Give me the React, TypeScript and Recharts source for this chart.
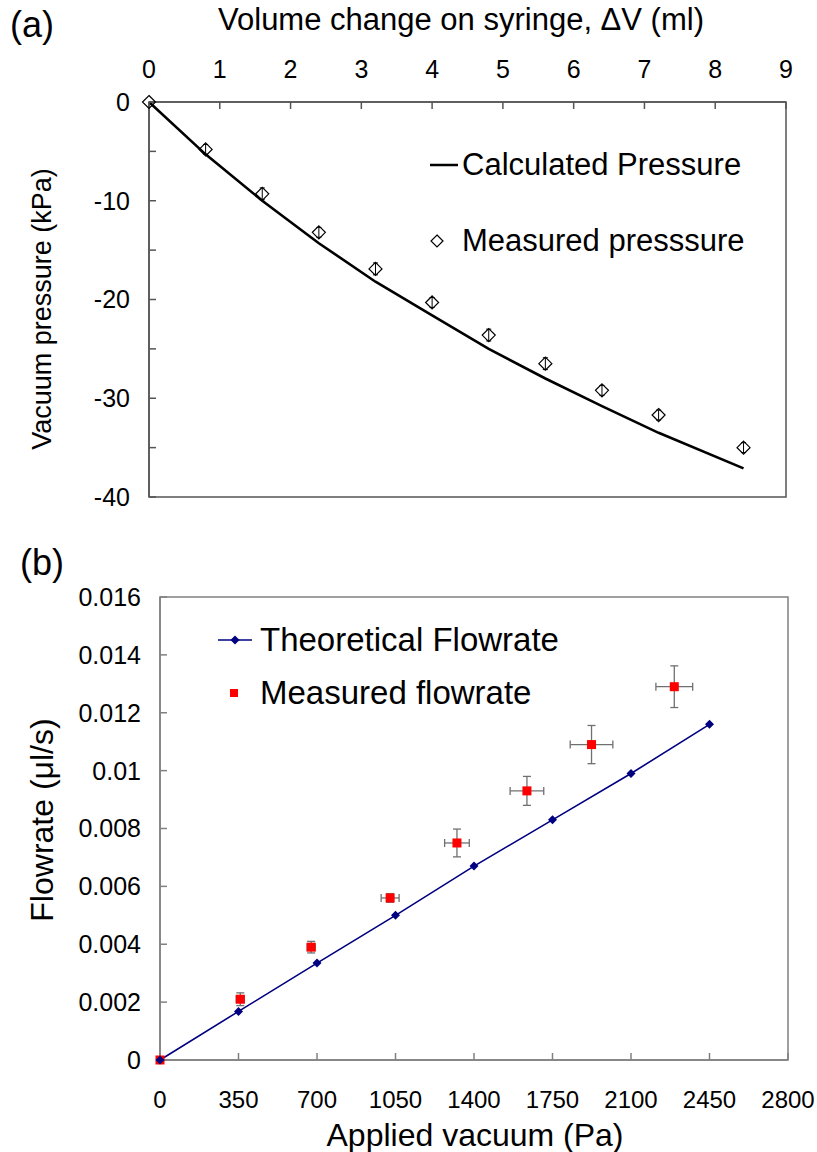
import React from "react";
import {
  ComposedChart,
  Line,
  Scatter,
  XAxis,
  YAxis,
  ErrorBar,
  ReferenceArea,
  Legend,
  Label,
} from "recharts";

const FONT = "'Liberation Sans', Arial, sans-serif";

// (a) syringe volume vs vacuum pressure
const volumeChange = [0, 0.8, 1.6, 2.4, 3.2, 4.0, 4.8, 5.6, 6.4, 7.2, 8.4];
const measuredPressure = [0, -4.8, -9.3, -13.2, -16.9, -20.3, -23.6, -26.5, -29.2, -31.7, -35.0];
const pressureError = [0, 0.5, 0.6, 0.5, 0.6, 0.5, 0.6, 0.6, 0.5, 0.5, 0.5];
const calculatedPressure = [0, -5.3, -10.0, -14.3, -18.2, -21.6, -25.0, -28.0, -30.8, -33.5, -37.1];
const volumeTicks = [0, 1, 2, 3, 4, 5, 6, 7, 8, 9];
const pressureTicks = [0, -5, -10, -15, -20, -25, -30, -35, -40];

// (b) applied vacuum vs flowrate
const appliedVacuum = [0, 350, 700, 1050, 1400, 1750, 2100, 2450];
const theoreticalFlow = [0, 0.00168, 0.00335, 0.005, 0.0067, 0.0083, 0.0099, 0.0116];
const measuredVacuum = [0, 358, 674, 1026, 1324, 1636, 1924, 2293];
const measuredFlow = [0, 0.0021, 0.0039, 0.0056, 0.0075, 0.0093, 0.0109, 0.0129];
const vacuumError = [0, 18, 18, 40, 55, 75, 95, 82];
const flowError = [0, 0.00022, 0.0002, 0.00015, 0.00048, 0.0005, 0.00066, 0.00072];
const vacuumTicks = [0, 350, 700, 1050, 1400, 1750, 2100, 2450, 2800];
const flowTicks = [0, 0.002, 0.004, 0.006, 0.008, 0.01, 0.012, 0.014, 0.016];

const pressureData = volumeChange.map((dv, i) => ({
  dv,
  measured: measuredPressure[i],
  err: pressureError[i],
  calc: calculatedPressure[i],
}));

const theoryData = appliedVacuum.map((pa, i) => ({ pa, q: theoreticalFlow[i] }));
const measuredData = measuredVacuum.map((pa, i) => ({
  pa,
  q: measuredFlow[i],
  ex: vacuumError[i],
  ey: flowError[i],
}));

const tickStyle = { fontFamily: FONT, fontSize: 25, fill: "#000" };
const smallTickStyle = { fontFamily: FONT, fontSize: 24, fill: "#000" };

const HollowDiamond = (props: any) => {
  const { cx, cy } = props;
  const r = 6.5;
  return (
    <path
      d={`M${cx},${cy - r}L${cx + r},${cy}L${cx},${cy + r}L${cx - r},${cy}Z`}
      fill="none"
      stroke="#000"
      strokeWidth={1.2}
    />
  );
};

const NavyDiamond = (props: any) => {
  const { cx, cy } = props;
  return (
    <path
      d={`M${cx},${cy - 4.5}L${cx + 4.5},${cy}L${cx},${cy + 4.5}L${cx - 4.5},${cy}Z`}
      fill="#000080"
    />
  );
};

const RedSquare = (props: any) => {
  const { cx, cy } = props;
  return <rect x={cx - 4.5} y={cy - 4.5} width={9} height={9} fill="#ff0000" />;
};

const PressureLegend = () => (
  <div style={{ fontFamily: FONT, fontSize: 31, color: "#000", lineHeight: "36px" }}>
    <div style={{ display: "flex", alignItems: "center", height: 36 }}>
      <svg width={32} height={36}>
        <line x1={0} x2={28} y1={18} y2={18} stroke="#000" strokeWidth={2.5} />
      </svg>
      <span>Calculated Pressure</span>
    </div>
    <div style={{ display: "flex", alignItems: "center", height: 36, marginTop: 40 }}>
      <svg width={32} height={36}>
        <path d="M7,12L13,18L7,24L1,18Z" fill="none" stroke="#000" strokeWidth={1.2} />
      </svg>
      <span>Measured presssure</span>
    </div>
  </div>
);

const FlowLegend = () => (
  <div style={{ fontFamily: FONT, fontSize: 33, color: "#000", lineHeight: "38px" }}>
    <div style={{ display: "flex", alignItems: "center", height: 38 }}>
      <svg width={55} height={38}>
        <line x1={13} x2={47} y1={19} y2={19} stroke="#000080" strokeWidth={1.5} />
        <path d="M30,14.5L34.5,19L30,23.5L25.5,19Z" fill="#000080" />
      </svg>
      <span>Theoretical Flowrate</span>
    </div>
    <div style={{ display: "flex", alignItems: "center", height: 38, marginTop: 15 }}>
      <svg width={55} height={38}>
        <rect x={25} y={15} width={8} height={8} fill="#ff0000" />
      </svg>
      <span>Measured flowrate</span>
    </div>
  </div>
);

const PressureChart = () => (
  <ComposedChart
    width={817}
    height={520}
    data={pressureData}
    margin={{ top: 0, right: 31, bottom: 23, left: 0 }}
  >
    <XAxis
      xAxisId="v"
      orientation="top"
      type="number"
      dataKey="dv"
      domain={[0, 9]}
      ticks={volumeTicks}
      height={102}
      tickSize={-7}
      tickMargin={31}
      tick={tickStyle}
      stroke="#555"
      strokeWidth={1.5}
    >
      <Label
        content={() => (
          <text
            x={461}
            y={30}
            textAnchor="middle"
            fontFamily={FONT}
            fontSize={31}
            fill="#000"
          >
            Volume change on syringe, ΔV (ml)
          </text>
        )}
      />
    </XAxis>
    <YAxis
      yAxisId="p"
      type="number"
      domain={[-40, 0]}
      ticks={pressureTicks}
      width={149}
      tickSize={-7}
      tickMargin={26}
      tick={tickStyle}
      tickFormatter={(v: number) => (v % 10 === 0 ? String(v) : "")}
      stroke="#555"
      strokeWidth={1.5}
    >
      <Label
        content={() => (
          <text
            x={42}
            y={309}
            transform="rotate(-90 42 309)"
            textAnchor="middle"
            dominantBaseline="central"
            fontFamily={FONT}
            fontSize={27}
            fill="#000"
          >
            Vacuum pressure (kPa)
          </text>
        )}
      />
    </YAxis>
    <ReferenceArea
      xAxisId="v"
      yAxisId="p"
      x1={0}
      x2={9}
      y1={-40}
      y2={0}
      fill="none"
      stroke="#555"
      strokeWidth={1.5}
      ifOverflow="visible"
    />
    <Line
      xAxisId="v"
      yAxisId="p"
      type="linear"
      dataKey="calc"
      stroke="#000"
      strokeWidth={2.6}
      dot={false}
      isAnimationActive={false}
    />
    <Scatter
      xAxisId="v"
      yAxisId="p"
      dataKey="measured"
      shape={HollowDiamond}
      isAnimationActive={false}
    >
      <ErrorBar dataKey="err" direction="y" width={2.5} stroke="#000" strokeWidth={1} />
    </Scatter>
    <Legend
      layout="vertical"
      align="center"
      verticalAlign="middle"
      content={PressureLegend}
      wrapperStyle={{ top: 147, left: 430, width: 387, height: 120 }}
    />
  </ComposedChart>
);

const FlowChart = () => (
  <ComposedChart
    width={817}
    height={612}
    margin={{ top: 57, right: 29, bottom: 0, left: 0 }}
  >
    <XAxis
      xAxisId="a"
      type="number"
      dataKey="pa"
      domain={[0, 2800]}
      ticks={vacuumTicks}
      height={92}
      tickSize={-7}
      tickMargin={38}
      tick={smallTickStyle}
      stroke="#808080"
      strokeWidth={1.5}
      allowDuplicatedCategory={false}
    >
      <Label
        content={() => (
          <text
            x={475}
            y={606}
            textAnchor="middle"
            fontFamily={FONT}
            fontSize={32}
            fill="#000"
          >
            Applied vacuum (Pa)
          </text>
        )}
      />
    </XAxis>
    <YAxis
      yAxisId="f"
      type="number"
      domain={[0, 0.016]}
      ticks={flowTicks}
      width={160}
      tickSize={-7}
      tickMargin={26}
      tick={tickStyle}
      stroke="#808080"
      strokeWidth={1.5}
    >
      <Label
        content={() => (
          <text
            x={42}
            y={280}
            transform="rotate(-90 42 280)"
            textAnchor="middle"
            dominantBaseline="central"
            fontFamily={FONT}
            fontSize={32}
            fill="#000"
          >
            Flowrate (μl/s)
          </text>
        )}
      />
    </YAxis>
    <ReferenceArea
      xAxisId="a"
      yAxisId="f"
      x1={0}
      x2={2800}
      y1={0}
      y2={0.016}
      fill="none"
      stroke="#808080"
      strokeWidth={1.5}
      ifOverflow="visible"
    />
    <Line
      xAxisId="a"
      yAxisId="f"
      data={theoryData}
      type="linear"
      dataKey="q"
      stroke="#000080"
      strokeWidth={1.6}
      dot={NavyDiamond}
      isAnimationActive={false}
    />
    <Scatter
      xAxisId="a"
      yAxisId="f"
      data={measuredData}
      dataKey="q"
      shape={RedSquare}
      isAnimationActive={false}
    >
      <ErrorBar dataKey="ey" direction="y" width={4} stroke="#707070" strokeWidth={1.3} />
      <ErrorBar dataKey="ex" direction="x" width={4} stroke="#707070" strokeWidth={1.3} />
    </Scatter>
    <Legend
      layout="vertical"
      align="center"
      verticalAlign="middle"
      content={FlowLegend}
      wrapperStyle={{ top: 81, left: 205, width: 460, height: 100 }}
    />
  </ComposedChart>
);

export default function App() {
  return (
    <div style={{ position: "absolute", left: 0, top: 0, width: 817, height: 1152, background: "#fff" }}>
      <div style={{ position: "absolute", left: 0, top: 0 }}>
        <PressureChart />
      </div>
      <div style={{ position: "absolute", left: 0, top: 540 }}>
        <FlowChart />
      </div>
      <span
        style={{ position: "absolute", left: 10, top: 4, fontFamily: FONT, fontSize: 36, lineHeight: "42px" }}
      >
        (a)
      </span>
      <span
        style={{ position: "absolute", left: 20, top: 542, fontFamily: FONT, fontSize: 36, lineHeight: "42px" }}
      >
        (b)
      </span>
    </div>
  );
}
